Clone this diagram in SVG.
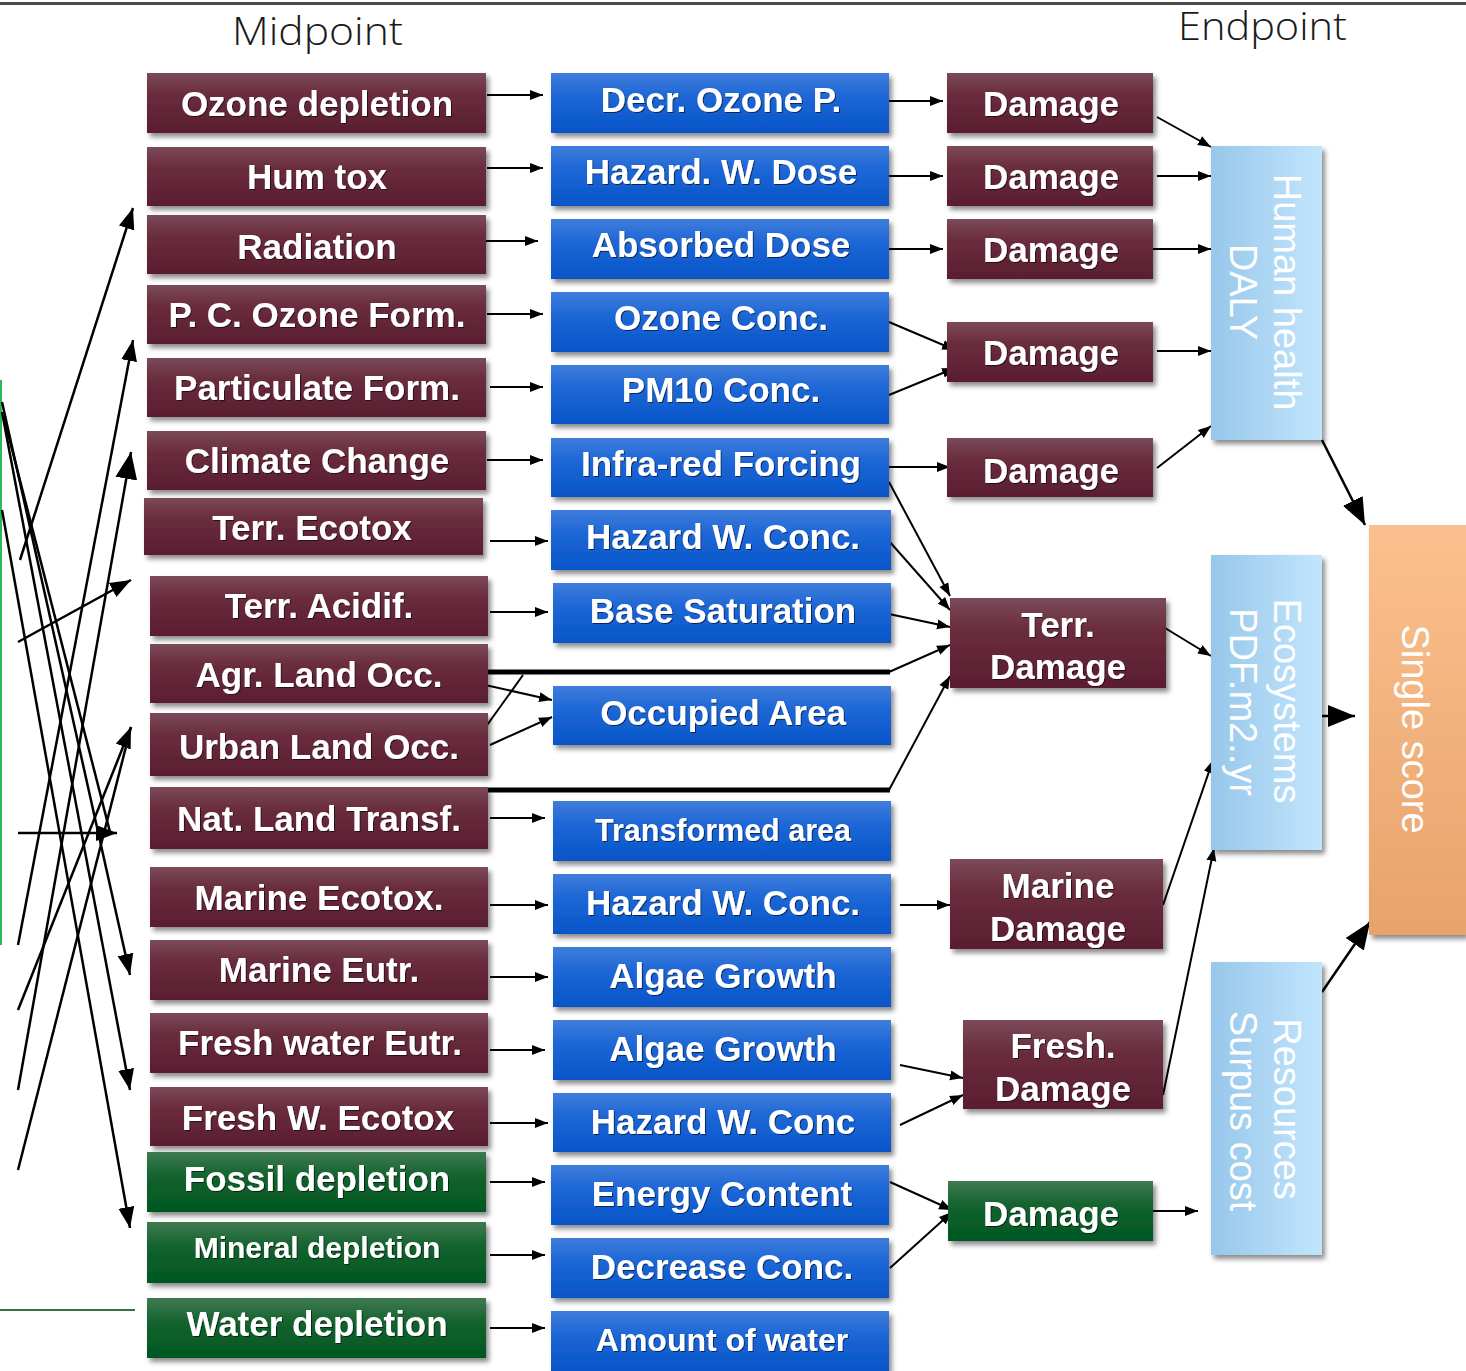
<svg xmlns="http://www.w3.org/2000/svg" width="1466" height="1371" viewBox="0 0 1466 1371">
<style>
.lbl{font-family:"Liberation Sans",Arial,sans-serif;font-weight:bold;font-size:35px;fill:#fff;text-anchor:middle}
.vt{font-family:"Liberation Sans",Arial,sans-serif;font-size:38px;fill:#fff;text-anchor:middle}
.hd{font-family:"Open Sans","Liberation Sans",sans-serif;font-weight:300;font-size:38px;fill:#1a1a1a}
.ln{stroke:#000;stroke-width:2;fill:none}
.lnl{stroke:#000;stroke-width:2.5;fill:none}
.thick{stroke:#000;stroke-width:5;fill:none}
.m{fill:url(#gM)}
.b{fill:url(#gB)}
.g{fill:url(#gG)}
.lb{fill:url(#gL)}
</style>
<defs>
<linearGradient id="gM" x1="0" y1="0" x2="0" y2="1"><stop offset="0" stop-color="#7b4a58"/><stop offset="0.35" stop-color="#6a2d3e"/><stop offset="1" stop-color="#5a1d30"/></linearGradient>
<linearGradient id="gB" x1="0" y1="0" x2="0" y2="1"><stop offset="0" stop-color="#3f7ddb"/><stop offset="0.4" stop-color="#1d66d6"/><stop offset="1" stop-color="#0655c9"/></linearGradient>
<linearGradient id="gG" x1="0" y1="0" x2="0" y2="1"><stop offset="0" stop-color="#3f7a50"/><stop offset="0.4" stop-color="#14632f"/><stop offset="1" stop-color="#005722"/></linearGradient>
<linearGradient id="gL" x1="0" y1="0" x2="1" y2="0"><stop offset="0" stop-color="#97c7ea"/><stop offset="1" stop-color="#c2e5fd"/></linearGradient>
<linearGradient id="gO" x1="0" y1="0" x2="0" y2="1"><stop offset="0" stop-color="#fbc08f"/><stop offset="1" stop-color="#e8a36a"/></linearGradient>
<filter id="sh" x="-10%" y="-10%" width="125%" height="135%"><feDropShadow dx="3" dy="4" stdDeviation="2.5" flood-color="#000" flood-opacity="0.45"/></filter>
<filter id="ts" x="-5%" y="-20%" width="110%" height="140%"><feDropShadow dx="1" dy="1" stdDeviation="0.6" flood-color="#000" flood-opacity="0.6"/></filter>
<marker id="aS" markerUnits="userSpaceOnUse" markerWidth="14" markerHeight="12" refX="13" refY="6" orient="auto"><path d="M0,1 L13,6 L0,11 Z" fill="#000"/></marker>
<marker id="aL" markerUnits="userSpaceOnUse" markerWidth="22" markerHeight="18" refX="21" refY="9" orient="auto"><path d="M0,1 L21,9 L0,17 Z" fill="#000"/></marker>
<marker id="aX" markerUnits="userSpaceOnUse" markerWidth="28" markerHeight="24" refX="27" refY="12" orient="auto"><path d="M0,1 L27,12 L0,23 Z" fill="#000"/></marker>
</defs>
<rect width="1466" height="1371" fill="#fff"/>
<rect x="0" y="2" width="1466" height="3" fill="#4a4a4a"/>
<line x1="1" y1="380" x2="1" y2="945" stroke="#2db85a" stroke-width="2"/>
<line x1="0" y1="1310" x2="135" y2="1310" stroke="#3a7040" stroke-width="2"/>
<text class="hd" x="232" y="45" textLength="171" lengthAdjust="spacingAndGlyphs">Midpoint</text>
<text class="hd" x="1178" y="40" textLength="169" lengthAdjust="spacingAndGlyphs">Endpoint</text>

<g id="connectors">
<line class="lnl" x1="20" y1="560" x2="133" y2="208" marker-end="url(#aL)"/>
<line class="lnl" x1="18" y1="945" x2="133" y2="340" marker-end="url(#aL)"/>
<line class="lnl" x1="18" y1="1090" x2="131" y2="452" marker-end="url(#aX)"/>
<line class="lnl" x1="18" y1="642" x2="131" y2="580" marker-end="url(#aL)"/>
<line class="lnl" x1="18" y1="1010" x2="131" y2="727" marker-end="url(#aL)"/>
<line class="lnl" x1="18" y1="1170" x2="131" y2="727"/>
<line class="lnl" x1="18" y1="833" x2="117" y2="833" marker-end="url(#aL)"/>
<line class="lnl" x1="2" y1="402" x2="130" y2="975" marker-end="url(#aL)"/>
<line class="lnl" x1="2" y1="412" x2="130" y2="1090" marker-end="url(#aL)"/>
<line class="lnl" x1="2" y1="510" x2="130" y2="1228" marker-end="url(#aL)"/>
<line class="lnl" x1="4" y1="418" x2="110" y2="832"/>
<line class="ln" x1="487" y1="95" x2="543" y2="95" marker-end="url(#aS)"/>
<line class="ln" x1="487" y1="168" x2="543" y2="168" marker-end="url(#aS)"/>
<line class="ln" x1="482" y1="241" x2="538" y2="241" marker-end="url(#aS)"/>
<line class="ln" x1="487" y1="314" x2="543" y2="314" marker-end="url(#aS)"/>
<line class="ln" x1="490" y1="387" x2="543" y2="387" marker-end="url(#aS)"/>
<line class="ln" x1="487" y1="460" x2="543" y2="460" marker-end="url(#aS)"/>
<line class="ln" x1="490" y1="541" x2="548" y2="541" marker-end="url(#aS)"/>
<line class="ln" x1="490" y1="612" x2="548" y2="612" marker-end="url(#aS)"/>
<line class="ln" x1="485" y1="685" x2="552" y2="700" marker-end="url(#aS)"/>
<line class="ln" x1="490" y1="745" x2="552" y2="717" marker-end="url(#aS)"/>
<line class="ln" x1="485" y1="728" x2="523" y2="675"/>
<line class="ln" x1="490" y1="818" x2="545" y2="818" marker-end="url(#aS)"/>
<line class="ln" x1="490" y1="905" x2="548" y2="905" marker-end="url(#aS)"/>
<line class="ln" x1="490" y1="977" x2="548" y2="977" marker-end="url(#aS)"/>
<line class="ln" x1="490" y1="1050" x2="545" y2="1050" marker-end="url(#aS)"/>
<line class="ln" x1="490" y1="1123" x2="548" y2="1123" marker-end="url(#aS)"/>
<line class="ln" x1="490" y1="1182" x2="545" y2="1182" marker-end="url(#aS)"/>
<line class="ln" x1="490" y1="1255" x2="545" y2="1255" marker-end="url(#aS)"/>
<line class="ln" x1="490" y1="1328" x2="545" y2="1328" marker-end="url(#aS)"/>
<line class="thick" x1="483" y1="672" x2="890" y2="672"/>
<line class="ln" x1="889" y1="672" x2="950" y2="645" marker-end="url(#aS)"/>
<line class="thick" x1="483" y1="790" x2="890" y2="790"/>
<line class="ln" x1="889" y1="790" x2="950" y2="676" marker-end="url(#aS)"/>
<line class="ln" x1="889" y1="101" x2="943" y2="101" marker-end="url(#aS)"/>
<line class="ln" x1="889" y1="176" x2="943" y2="176" marker-end="url(#aS)"/>
<line class="ln" x1="889" y1="249" x2="943" y2="249" marker-end="url(#aS)"/>
<line class="ln" x1="889" y1="322" x2="955" y2="350" marker-end="url(#aS)"/>
<line class="ln" x1="889" y1="395" x2="955" y2="368" marker-end="url(#aS)"/>
<line class="ln" x1="889" y1="467" x2="950" y2="467" marker-end="url(#aS)"/>
<line class="ln" x1="889" y1="482" x2="950" y2="596" marker-end="url(#aS)"/>
<line class="ln" x1="889" y1="541" x2="950" y2="610" marker-end="url(#aS)"/>
<line class="ln" x1="889" y1="614" x2="950" y2="627" marker-end="url(#aS)"/>
<line class="ln" x1="900" y1="905" x2="950" y2="905" marker-end="url(#aS)"/>
<line class="ln" x1="900" y1="1065" x2="963" y2="1078" marker-end="url(#aS)"/>
<line class="ln" x1="900" y1="1125" x2="963" y2="1095" marker-end="url(#aS)"/>
<line class="ln" x1="890" y1="1182" x2="952" y2="1210" marker-end="url(#aS)"/>
<line class="ln" x1="890" y1="1268" x2="952" y2="1212" marker-end="url(#aS)"/>
<line class="ln" x1="1157" y1="117" x2="1211" y2="147" marker-end="url(#aS)"/>
<line class="ln" x1="1157" y1="176" x2="1211" y2="176" marker-end="url(#aS)"/>
<line class="ln" x1="1153" y1="249" x2="1211" y2="249" marker-end="url(#aS)"/>
<line class="ln" x1="1157" y1="351" x2="1211" y2="351" marker-end="url(#aS)"/>
<line class="ln" x1="1157" y1="468" x2="1211" y2="426" marker-end="url(#aS)"/>
<line class="ln" x1="1165" y1="628" x2="1211" y2="656" marker-end="url(#aS)"/>
<line class="ln" x1="1163" y1="905" x2="1213" y2="760" marker-end="url(#aS)"/>
<line class="ln" x1="1163" y1="1095" x2="1214" y2="848" marker-end="url(#aS)"/>
<line class="ln" x1="1153" y1="1211" x2="1198" y2="1211" marker-end="url(#aS)"/>
<line class="lnl" x1="1322" y1="440" x2="1365" y2="525" marker-end="url(#aX)"/>
<line class="lnl" x1="1322" y1="716" x2="1355" y2="716" marker-end="url(#aX)"/>
<line class="lnl" x1="1322" y1="992" x2="1370" y2="922" marker-end="url(#aX)"/>
</g>

<g id="n-ozone-depletion"><rect class="m" x="147" y="73" width="339" height="60" filter="url(#sh)"/><text class="lbl" x="317" y="116" filter="url(#ts)">Ozone depletion</text></g>
<g id="n-hum-tox"><rect class="m" x="147" y="147" width="339" height="59" filter="url(#sh)"/><text class="lbl" x="317" y="189" filter="url(#ts)">Hum tox</text></g>
<g id="n-radiation"><rect class="m" x="147" y="215" width="339" height="59" filter="url(#sh)"/><text class="lbl" x="317" y="259" filter="url(#ts)">Radiation</text></g>
<g id="n-pc-ozone"><rect class="m" x="147" y="285" width="339" height="59" filter="url(#sh)"/><text class="lbl" x="317" y="327" filter="url(#ts)">P. C. Ozone Form.</text></g>
<g id="n-particulate"><rect class="m" x="147" y="358" width="339" height="59" filter="url(#sh)"/><text class="lbl" x="317" y="400" filter="url(#ts)">Particulate Form.</text></g>
<g id="n-climate"><rect class="m" x="147" y="431" width="339" height="59" filter="url(#sh)"/><text class="lbl" x="317" y="473" filter="url(#ts)">Climate Change</text></g>
<g id="n-terr-ecotox"><rect class="m" x="144" y="498" width="339" height="57" filter="url(#sh)"/><text class="lbl" x="312" y="540" filter="url(#ts)">Terr. Ecotox</text></g>
<g id="n-terr-acidif"><rect class="m" x="150" y="576" width="338" height="60" filter="url(#sh)"/><text class="lbl" x="319" y="618" filter="url(#ts)">Terr. Acidif.</text></g>
<g id="n-agr-land"><rect class="m" x="150" y="644" width="338" height="59" filter="url(#sh)"/><text class="lbl" x="319" y="687" filter="url(#ts)">Agr. Land Occ.</text></g>
<g id="n-urban-land"><rect class="m" x="150" y="713" width="338" height="63" filter="url(#sh)"/><text class="lbl" x="319" y="759" filter="url(#ts)">Urban Land Occ.</text></g>
<g id="n-nat-land"><rect class="m" x="150" y="787" width="338" height="62" filter="url(#sh)"/><text class="lbl" x="319" y="831" filter="url(#ts)">Nat. Land Transf.</text></g>
<g id="n-marine-ecotox"><rect class="m" x="150" y="867" width="338" height="60" filter="url(#sh)"/><text class="lbl" x="319" y="910" filter="url(#ts)">Marine Ecotox.</text></g>
<g id="n-marine-eutr"><rect class="m" x="150" y="940" width="338" height="60" filter="url(#sh)"/><text class="lbl" x="319" y="982" filter="url(#ts)">Marine Eutr.</text></g>
<g id="n-fresh-eutr"><rect class="m" x="150" y="1013" width="338" height="60" filter="url(#sh)"/><text class="lbl" x="320" y="1055" filter="url(#ts)">Fresh water Eutr.</text></g>
<g id="n-fresh-ecotox"><rect class="m" x="150" y="1087" width="338" height="59" filter="url(#sh)"/><text class="lbl" x="318" y="1130" filter="url(#ts)">Fresh W. Ecotox</text></g>
<g id="n-fossil"><rect class="g" x="147" y="1152" width="339" height="60" filter="url(#sh)"/><text class="lbl" x="317" y="1191" filter="url(#ts)">Fossil depletion</text></g>
<g id="n-mineral"><rect class="g" x="147" y="1222" width="339" height="61" filter="url(#sh)"/><text class="lbl" x="317" y="1258" style="font-size:30px" filter="url(#ts)">Mineral depletion</text></g>
<g id="n-water"><rect class="g" x="147" y="1298" width="339" height="60" filter="url(#sh)"/><text class="lbl" x="317" y="1336" filter="url(#ts)">Water depletion</text></g>

<g id="n-decr-ozone"><rect class="b" x="551" y="73" width="338" height="60" filter="url(#sh)"/><text class="lbl" x="721" y="112" filter="url(#ts)">Decr. Ozone P.</text></g>
<g id="n-hazard-dose"><rect class="b" x="551" y="146" width="338" height="60" filter="url(#sh)"/><text class="lbl" x="721" y="184" filter="url(#ts)">Hazard. W. Dose</text></g>
<g id="n-absorbed"><rect class="b" x="551" y="219" width="338" height="60" filter="url(#sh)"/><text class="lbl" x="721" y="257" filter="url(#ts)">Absorbed Dose</text></g>
<g id="n-ozone-conc"><rect class="b" x="551" y="292" width="338" height="60" filter="url(#sh)"/><text class="lbl" x="721" y="330" filter="url(#ts)">Ozone Conc.</text></g>
<g id="n-pm10"><rect class="b" x="551" y="365" width="338" height="59" filter="url(#sh)"/><text class="lbl" x="721" y="402" filter="url(#ts)">PM10 Conc.</text></g>
<g id="n-infrared"><rect class="b" x="551" y="438" width="338" height="59" filter="url(#sh)"/><text class="lbl" x="721" y="476" filter="url(#ts)">Infra-red Forcing</text></g>
<g id="n-hazard-conc-terr"><rect class="b" x="551" y="510" width="340" height="60" filter="url(#sh)"/><text class="lbl" x="723" y="549" filter="url(#ts)">Hazard W. Conc.</text></g>
<g id="n-base-sat"><rect class="b" x="553" y="583" width="338" height="60" filter="url(#sh)"/><text class="lbl" x="723" y="623" filter="url(#ts)">Base Saturation</text></g>
<g id="n-occupied"><rect class="b" x="553" y="686" width="338" height="59" filter="url(#sh)"/><text class="lbl" x="723" y="725" filter="url(#ts)">Occupied Area</text></g>
<g id="n-transformed"><rect class="b" x="553" y="801" width="338" height="60" filter="url(#sh)"/><text class="lbl" x="723" y="841" style="font-size:30.5px" filter="url(#ts)">Transformed area</text></g>
<g id="n-hazard-conc-marine"><rect class="b" x="553" y="874" width="338" height="60" filter="url(#sh)"/><text class="lbl" x="723" y="915" filter="url(#ts)">Hazard W. Conc.</text></g>
<g id="n-algae-1"><rect class="b" x="553" y="947" width="338" height="60" filter="url(#sh)"/><text class="lbl" x="723" y="988" filter="url(#ts)">Algae Growth</text></g>
<g id="n-algae-2"><rect class="b" x="553" y="1020" width="338" height="60" filter="url(#sh)"/><text class="lbl" x="723" y="1061" filter="url(#ts)">Algae Growth</text></g>
<g id="n-hazard-conc-fresh"><rect class="b" x="553" y="1093" width="338" height="59" filter="url(#sh)"/><text class="lbl" x="723" y="1134" filter="url(#ts)">Hazard W. Conc</text></g>
<g id="n-energy"><rect class="b" x="551" y="1165" width="338" height="60" filter="url(#sh)"/><text class="lbl" x="722" y="1206" filter="url(#ts)">Energy Content</text></g>
<g id="n-decrease-conc"><rect class="b" x="551" y="1238" width="338" height="60" filter="url(#sh)"/><text class="lbl" x="722" y="1279" filter="url(#ts)">Decrease Conc.</text></g>
<g id="n-amount-water"><rect class="b" x="551" y="1311" width="338" height="60" filter="url(#sh)"/><text class="lbl" x="722" y="1351" style="font-size:32px" filter="url(#ts)">Amount of water</text></g>

<g id="n-damage-1"><rect class="m" x="947" y="73" width="206" height="60" filter="url(#sh)"/><text class="lbl" x="1051" y="116" filter="url(#ts)">Damage</text></g>
<g id="n-damage-2"><rect class="m" x="947" y="146" width="206" height="60" filter="url(#sh)"/><text class="lbl" x="1051" y="189" filter="url(#ts)">Damage</text></g>
<g id="n-damage-3"><rect class="m" x="947" y="219" width="206" height="60" filter="url(#sh)"/><text class="lbl" x="1051" y="262" filter="url(#ts)">Damage</text></g>
<g id="n-damage-4"><rect class="m" x="947" y="322" width="206" height="60" filter="url(#sh)"/><text class="lbl" x="1051" y="365" filter="url(#ts)">Damage</text></g>
<g id="n-damage-5"><rect class="m" x="947" y="438" width="206" height="59" filter="url(#sh)"/><text class="lbl" x="1051" y="483" filter="url(#ts)">Damage</text></g>
<g id="n-terr-damage"><rect class="m" x="950" y="598" width="216" height="90" filter="url(#sh)"/><text class="lbl" x="1058" y="637" filter="url(#ts)">Terr.</text><text class="lbl" x="1058" y="679" filter="url(#ts)">Damage</text></g>
<g id="n-marine-damage"><rect class="m" x="950" y="859" width="213" height="90" filter="url(#sh)"/><text class="lbl" x="1058" y="898" filter="url(#ts)">Marine</text><text class="lbl" x="1058" y="941" filter="url(#ts)">Damage</text></g>
<g id="n-fresh-damage"><rect class="m" x="963" y="1020" width="200" height="89" filter="url(#sh)"/><text class="lbl" x="1063" y="1058" filter="url(#ts)">Fresh.</text><text class="lbl" x="1063" y="1101" filter="url(#ts)">Damage</text></g>
<g id="n-damage-resources"><rect class="g" x="948" y="1181" width="205" height="60" filter="url(#sh)"/><text class="lbl" x="1051" y="1226" filter="url(#ts)">Damage</text></g>

<g id="n-human-health"><rect class="lb" x="1211" y="146" width="111" height="294" filter="url(#sh)"/>
<text class="vt" transform="translate(1287,292) rotate(90)" y="13">Human health</text>
<text class="vt" transform="translate(1243,292) rotate(90)" y="13">DALY</text></g>
<g id="n-ecosystems"><rect class="lb" x="1211" y="555" width="111" height="295" filter="url(#sh)"/>
<text class="vt" transform="translate(1287,701) rotate(90)" y="13">Ecosystems</text>
<text class="vt" transform="translate(1243,702) rotate(90)" y="13">PDF.m2..yr</text></g>
<g id="n-resources"><rect class="lb" x="1211" y="962" width="111" height="293" filter="url(#sh)"/>
<text class="vt" transform="translate(1287,1109) rotate(90)" y="13">Resources</text>
<text class="vt" transform="translate(1243,1111) rotate(90)" y="13">Surpus cost</text></g>
<g id="n-single-score"><rect x="1369" y="525" width="97" height="410" fill="url(#gO)" filter="url(#sh)"/>
<text class="vt" transform="translate(1415,729) rotate(90)" y="13">Single score</text></g>
</svg>
